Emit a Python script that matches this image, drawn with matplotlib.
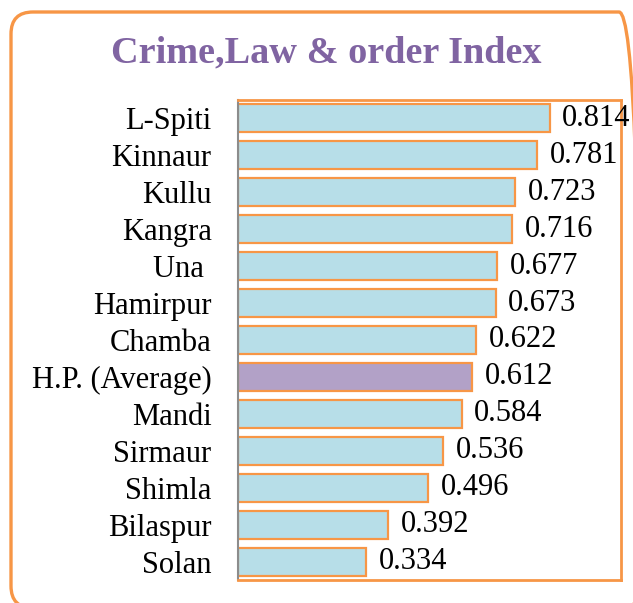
import numpy as np
import matplotlib.pyplot as plt
from matplotlib.patches import FancyBboxPatch

districts = ['L-Spiti', 'Kinnaur', 'Kullu', 'Kangra', 'Una ', 'Hamirpur', 'Chamba',
             'H.P. (Average)', 'Mandi', 'Sirmaur', 'Shimla', 'Bilaspur', 'Solan']
index_vals = [0.814, 0.781, 0.723, 0.716, 0.677, 0.673, 0.622,
              0.612, 0.584, 0.536, 0.496, 0.392, 0.334]

orange = '#F79646'
blue = '#B7DEE8'
purple = '#B2A1C7'
serif = ['Liberation Serif', 'DejaVu Serif']

fig = plt.figure(figsize=(6.33, 6.03), dpi=100)

# rounded frame around the whole chart (inches, so the corners stay round)
frame = FancyBboxPatch((0.11, -0.05), 6.30, 5.96,
                       boxstyle='round,pad=0,rounding_size=0.22',
                       transform=fig.dpi_scale_trans, facecolor='none',
                       edgecolor=orange, linewidth=2.4, clip_on=False)
fig.patches.append(frame)

ax = fig.add_axes([238 / 633, 23 / 603, 383 / 633, 480 / 603])
y = np.arange(len(districts))
colors = [purple if d.startswith('H.P.') else blue for d in districts]
ax.barh(y, index_vals, height=0.76, color=colors, edgecolor=orange, linewidth=1.6)

for yi, v in zip(y, index_vals):
    ax.annotate('%.3f' % v, (v, yi), xytext=(9, 0), textcoords='offset points',
                va='center', ha='left', fontsize=22, family=serif, clip_on=False)

ax.set_xlim(0, 1)
ax.set_ylim(len(districts) - 0.5, -0.5)
ax.set_xticks([])
ax.set_yticks(y)
ax.set_yticklabels(districts, fontsize=22, family=serif)
ax.tick_params(axis='y', length=0, pad=19)
for s in ['top', 'right', 'bottom']:
    ax.spines[s].set_color(orange)
    ax.spines[s].set_linewidth(2)
ax.spines['left'].set_color('#8C8C8C')
ax.spines['left'].set_linewidth(1.5)

fig.text(326 / 633, 1 - 53 / 603, 'Crime,Law & order Index', ha='center', va='center',
         fontsize=27.5, fontweight='bold', color='#8064A2', family=serif)

fig.savefig('out.png', dpi=100)
